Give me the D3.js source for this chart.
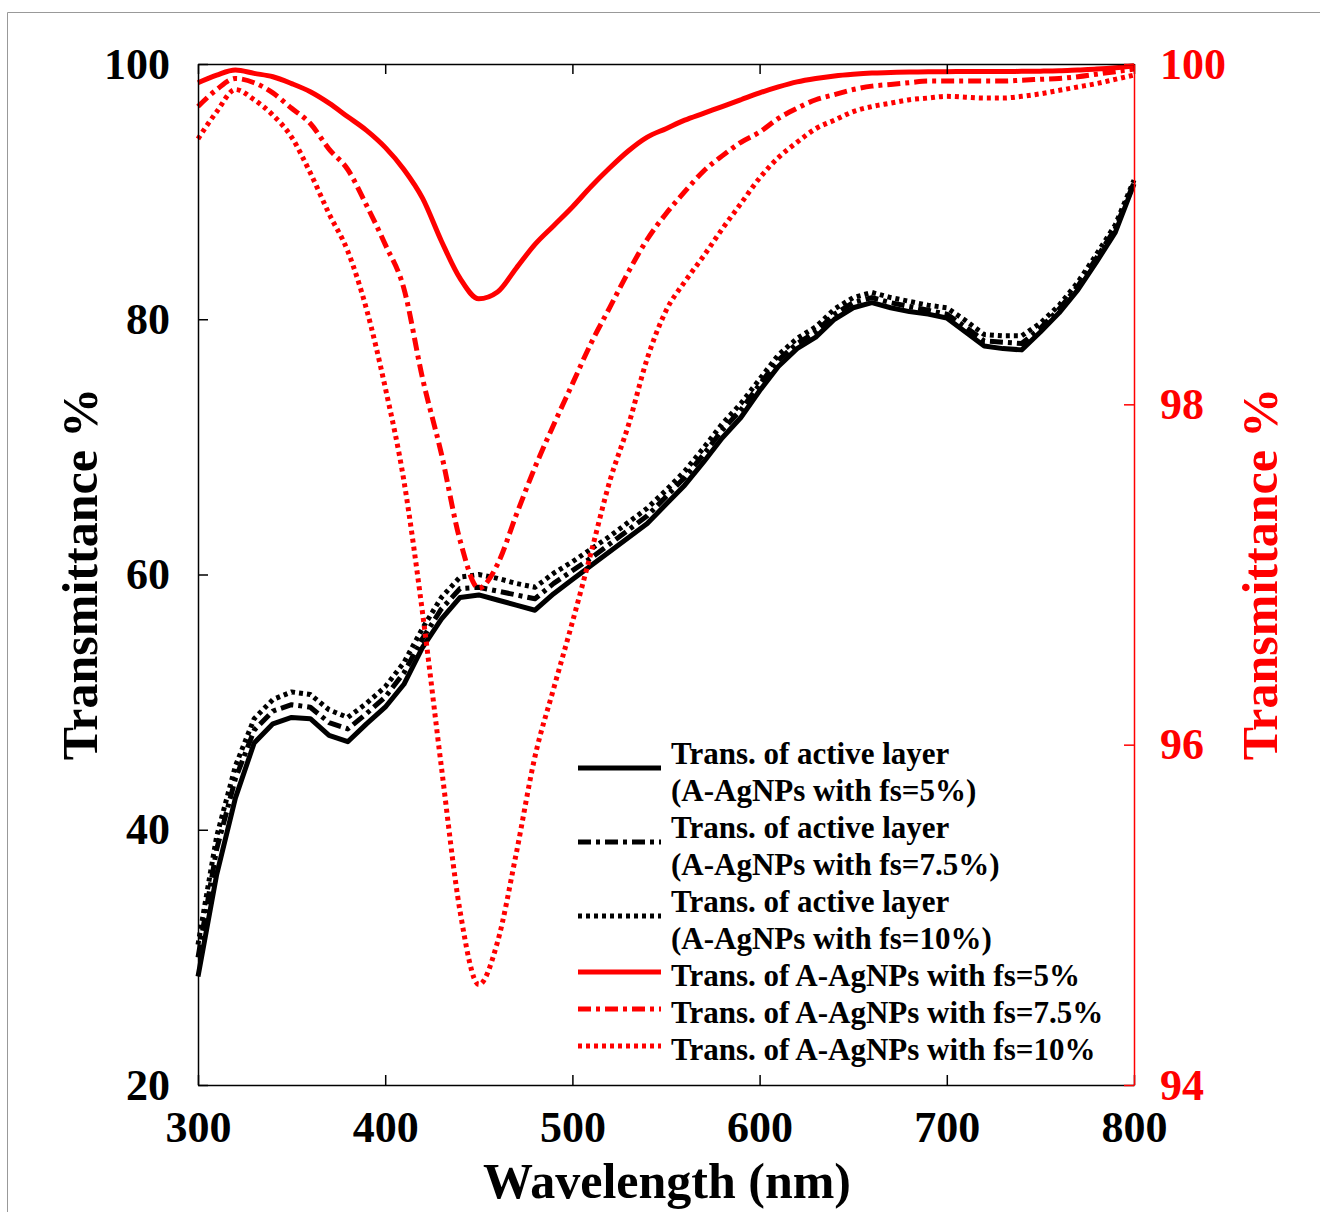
<!DOCTYPE html>
<html>
<head>
<meta charset="utf-8">
<script src="https://cdn.jsdelivr.net/npm/d3@7"></script>
<style>
  body { margin: 0; background: #fff; }
  svg text { font-family: "Liberation Serif", "Times New Roman", serif; font-weight: bold; }
</style>
</head>
<body>
<div id="chart"></div>
<script>
// wavelength grid (nm)
let wavelength = d3.range(300, 801, 10);

// left axis: transmittance of active layer (%)
let activeFs5 = [28.5, 36.5, 42.5, 46.8, 48.3, 48.8, 48.7, 47.4, 46.9, 48.3,
  49.6, 51.4, 54.3, 56.5, 58.2, 58.4, 58.0, 57.6, 57.2, 58.5,
  59.6, 60.7, 61.8, 62.9, 64.0, 65.5, 67.0, 68.8, 70.7, 72.3,
  74.4, 76.3, 77.7, 78.6, 80.0, 80.9, 81.3, 80.9, 80.6, 80.4,
  80.1, 79.0, 77.9, 77.7, 77.6, 79.0, 80.5, 82.3, 84.5, 86.8, 90.6];
let activeFs75 = [30.0, 38.5, 44.0, 47.8, 49.3, 49.8, 49.6, 48.4, 47.9, 49.1,
  50.4, 52.3, 55.0, 57.3, 58.9, 59.0, 58.7, 58.4, 58.1, 59.3,
  60.3, 61.3, 62.4, 63.5, 64.6, 66.1, 67.6, 69.4, 71.3, 72.9,
  74.9, 76.8, 78.1, 79.0, 80.4, 81.3, 81.7, 81.3, 81.0, 80.7,
  80.4, 79.4, 78.3, 78.2, 78.1, 79.3, 80.8, 82.6, 84.8, 87.1, 90.7];
let activeFs10 = [31.0, 39.5, 45.0, 48.7, 50.2, 50.8, 50.6, 49.4, 48.8, 49.9,
  51.2, 53.1, 55.8, 58.2, 59.8, 60.0, 59.7, 59.3, 59.0, 60.1,
  61.0, 62.0, 63.0, 64.1, 65.2, 66.6, 68.1, 69.9, 71.8, 73.4,
  75.3, 77.2, 78.5, 79.4, 80.8, 81.7, 82.1, 81.7, 81.4, 81.1,
  80.9, 79.9, 78.8, 78.7, 78.7, 79.7, 81.1, 82.9, 85.1, 87.4, 90.9];

// right axis: transmittance of A-AgNPs (%)
let agFs5 = [99.89, 99.935, 99.965, 99.945, 99.925, 99.885, 99.837, 99.77, 99.69, 99.61,
  99.51, 99.38, 99.21, 98.96, 98.74, 98.62, 98.66, 98.80, 98.94, 99.05,
  99.16, 99.28, 99.39, 99.49, 99.57, 99.62, 99.67, 99.71, 99.75, 99.79,
  99.83, 99.865, 99.895, 99.915, 99.93, 99.94, 99.947, 99.95, 99.953, 99.955,
  99.955, 99.956, 99.956, 99.956, 99.957, 99.958, 99.96, 99.965, 99.97, 99.978, 99.99];
let agFs75 = [99.75, 99.85, 99.915, 99.89, 99.83, 99.74, 99.65, 99.50, 99.38, 99.17,
  98.94, 98.68, 98.15, 97.71, 97.20, 96.92, 97.06, 97.35, 97.63, 97.88,
  98.12, 98.36, 98.57, 98.78, 98.97, 99.12, 99.25, 99.37, 99.46, 99.54,
  99.60, 99.68, 99.74, 99.79, 99.82, 99.85, 99.87, 99.88, 99.89, 99.90,
  99.90, 99.90, 99.90, 99.90, 99.905, 99.91, 99.915, 99.925, 99.94, 99.955, 99.97];
let agFs10 = [99.56, 99.72, 99.85, 99.79, 99.70, 99.57, 99.36, 99.12, 98.90, 98.56,
  98.10, 97.55, 96.77, 95.87, 95.02, 94.59, 94.84, 95.36, 95.93, 96.33,
  96.72, 97.13, 97.55, 97.88, 98.27, 98.55, 98.72, 98.87, 99.03, 99.18,
  99.33, 99.45, 99.54, 99.62, 99.67, 99.72, 99.75, 99.77, 99.79, 99.80,
  99.81, 99.805, 99.80, 99.80, 99.81, 99.825, 99.845, 99.865, 99.885, 99.91, 99.935];

let xTicks = [300, 400, 500, 600, 700, 800];
let leftTicks = [20, 40, 60, 80, 100];
let rightTicks = [94, 96, 98, 100];

let legendLabels = [
  ["Trans. of active layer", "(A-AgNPs with fs=5%)"],
  ["Trans. of active layer", "(A-AgNPs with fs=7.5%)"],
  ["Trans. of active layer", "(A-AgNPs with fs=10%)"],
  ["Trans. of A-AgNPs with fs=5%"],
  ["Trans. of A-AgNPs with fs=7.5%"],
  ["Trans. of A-AgNPs with fs=10%"]
];

function drawChart() {
  let width = 1320, height = 1212;
  let margin = {top: 64, right: 186, bottom: 127, left: 198};
  let plotW = width - margin.left - margin.right;
  let plotH = height - margin.top - margin.bottom;

  let svg = d3.select("#chart").append("svg")
    .attr("width", width)
    .attr("height", height);

  // figure frame
  svg.append("path")
    .attr("d", "M7.5,1212 L7.5,12.5 L1320,12.5")
    .attr("fill", "none")
    .attr("stroke", "#999")
    .attr("stroke-width", 1);

  let plot = svg.append("g")
    .attr("transform", "translate(" + margin.left + "," + margin.top + ")");

  let x = d3.scaleLinear().domain([300, 800]).range([0, plotW]);
  let yL = d3.scaleLinear().domain([20, 100]).range([plotH, 0]);
  let yR = d3.scaleLinear().domain([94, 100]).range([plotH, 0]);

  let series = [
    {vals: activeFs5, scale: yL, color: "#000", dash: null},
    {vals: activeFs75, scale: yL, color: "#000", dash: "13,5,4,5"},
    {vals: activeFs10, scale: yL, color: "#000", dash: "4,4"},
    {vals: agFs5, scale: yR, color: "#ff0000", dash: null},
    {vals: agFs75, scale: yR, color: "#ff0000", dash: "13,5,4,5"},
    {vals: agFs10, scale: yR, color: "#ff0000", dash: "4,4"}
  ];

  series.forEach(function(s, k) {
    let line = d3.line()
      .x(function(d, i) { return x(wavelength[i]); })
      .y(function(d) { return s.scale(d); })
      .curve(k < 3 ? d3.curveLinear : d3.curveMonotoneX);
    plot.append("path")
      .datum(s.vals)
      .attr("d", line)
      .attr("fill", "none")
      .attr("stroke", s.color)
      .attr("stroke-width", 5)
      .attr("stroke-linejoin", "round")
      .attr("stroke-dasharray", s.dash);
  });

  // bottom axis
  let xAxis = plot.append("g")
    .attr("transform", "translate(0," + plotH + ")")
    .call(d3.axisBottom(x).tickValues(xTicks).tickSizeInner(-10).tickSizeOuter(0).tickPadding(26));
  // top axis (ticks only)
  let xTop = plot.append("g")
    .call(d3.axisTop(x).tickValues(xTicks).tickSizeInner(-10).tickSizeOuter(0).tickFormat(""));
  // left axis
  let yAxisL = plot.append("g")
    .call(d3.axisLeft(yL).tickValues(leftTicks).tickSizeInner(-10).tickSizeOuter(0).tickPadding(28));
  // right axis
  let yAxisR = plot.append("g")
    .attr("transform", "translate(" + plotW + ",0)")
    .call(d3.axisRight(yR).tickValues(rightTicks).tickFormat(d3.format("d"))
      .tickSizeInner(-10).tickSizeOuter(0).tickPadding(26));

  [xAxis, xTop, yAxisL].forEach(function(g) {
    g.selectAll("path, line").attr("stroke", "#000").attr("stroke-width", 1.5);
    g.selectAll("text").attr("fill", "#000").style("font-size", "44px");
  });
  yAxisR.selectAll("path, line").attr("stroke", "#ff0000").attr("stroke-width", 1.5);
  yAxisR.selectAll("text").attr("fill", "#ff0000").style("font-size", "44px");
  xAxis.selectAll("text").attr("dy", "0.71em");

  // axis titles
  svg.append("text")
    .attr("x", 667)
    .attr("y", 1198)
    .attr("text-anchor", "middle")
    .style("font-size", "50px")
    .text("Wavelength (nm)");

  svg.append("text")
    .attr("transform", "translate(97," + 574 + ") rotate(-90)")
    .attr("text-anchor", "middle")
    .style("font-size", "50px")
    .text("Transmittance %");

  svg.append("text")
    .attr("transform", "translate(1277," + 574 + ") rotate(-90)")
    .attr("text-anchor", "middle")
    .attr("fill", "#ff0000")
    .style("font-size", "50px")
    .text("Transmittance %");

  // legend
  let legendRows = [753, 827, 901, 975, 1012, 1049];
  let legend = svg.append("g");
  legendLabels.forEach(function(lines, i) {
    let s = series[i];
    let top = legendRows[i];
    let lineY = lines.length > 1 ? top + 15 : top - 3;
    legend.append("line")
      .attr("x1", 578).attr("x2", 661)
      .attr("y1", lineY).attr("y2", lineY)
      .attr("stroke", s.color)
      .attr("stroke-width", 5)
      .attr("stroke-dasharray", s.dash);
    lines.forEach(function(t, j) {
      legend.append("text")
        .attr("x", 671)
        .attr("y", top + j * 37)
        .attr("dy", "0.35em")
        .style("font-size", "31px")
        .text(t);
    });
  });
}

drawChart();
</script>
</body>
</html>
